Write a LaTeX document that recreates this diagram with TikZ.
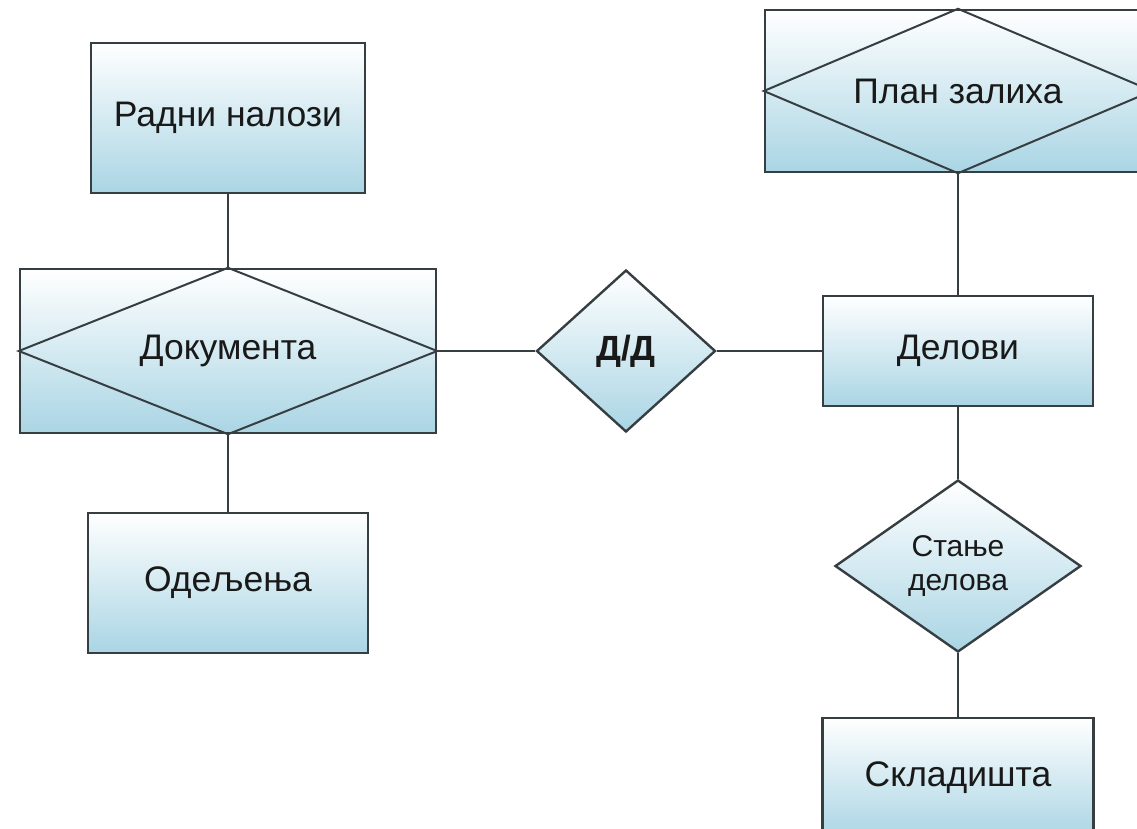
\documentclass[tikz,border=0pt]{standalone}
\usepackage{fontspec}
\setmainfont{Liberation Sans}
\usetikzlibrary{shapes.geometric}
\definecolor{edgec}{RGB}{55,62,66}
\definecolor{lblue}{RGB}{170,213,228}
\tikzset{
  ent/.style={draw=edgec, line width=2.4pt, top color=white, bottom color=lblue,
    font=\fontsize{35.5}{40}\selectfont, inner sep=0pt, text=black!90},
  rel/.style={ent, diamond, line join=miter},
  inner/.style={draw=edgec, line width=2pt, line join=miter},
  conn/.style={draw=edgec, line width=2pt}
}
\begin{document}
\begin{tikzpicture}[x=1pt,y=-1pt]
\useasboundingbox (0,0) rectangle (1137,828);
\clip (0,0) rectangle (1137,828);
\fill[white] (0,0) rectangle (1137,828);
% entities
\node[ent, minimum width=274pt, minimum height=150pt] (radni) at (228,118) {Радни налози};
\node[ent, minimum width=416pt, minimum height=164pt] (dok) at (228,351) {Документа};
\draw[inner] (dok.west) -- (dok.north) -- (dok.east) -- (dok.south) -- cycle;
\node[ent, minimum width=280pt, minimum height=140pt] (odel) at (228,583) {Одељења};
\node[rel, minimum width=179pt, minimum height=162pt, font=\fontsize{35}{40}\selectfont\bfseries] (dd) at (626,351) {Д/Д};
\node[ent, minimum width=270pt, minimum height=110pt] (delovi) at (958,351) {Делови};
\node[ent, minimum width=386pt, minimum height=162pt] (plan) at (958,91) {План залиха};
\draw[inner] (plan.west) -- (plan.north) -- (plan.east) -- (plan.south) -- cycle;
\node[rel, minimum width=246pt, minimum height=172pt, align=center, font=\fontsize{30}{34}\selectfont] (stanje) at (958,566) {Стање\\делова};
\node[ent, minimum width=271pt, minimum height=120pt] (sklad) at (958,778) {Складишта};
% connectors
\draw[conn] (radni.south) -- (dok.north);
\draw[conn] (dok.south) -- (odel.north);
\draw[conn] (dok.east) -- (dd.west);
\draw[conn] (dd.east) -- (delovi.west);
\draw[conn] (plan.south) -- (delovi.north);
\draw[conn] (delovi.south) -- (stanje.north);
\draw[conn] (stanje.south) -- (sklad.north);
\end{tikzpicture}
\end{document}
